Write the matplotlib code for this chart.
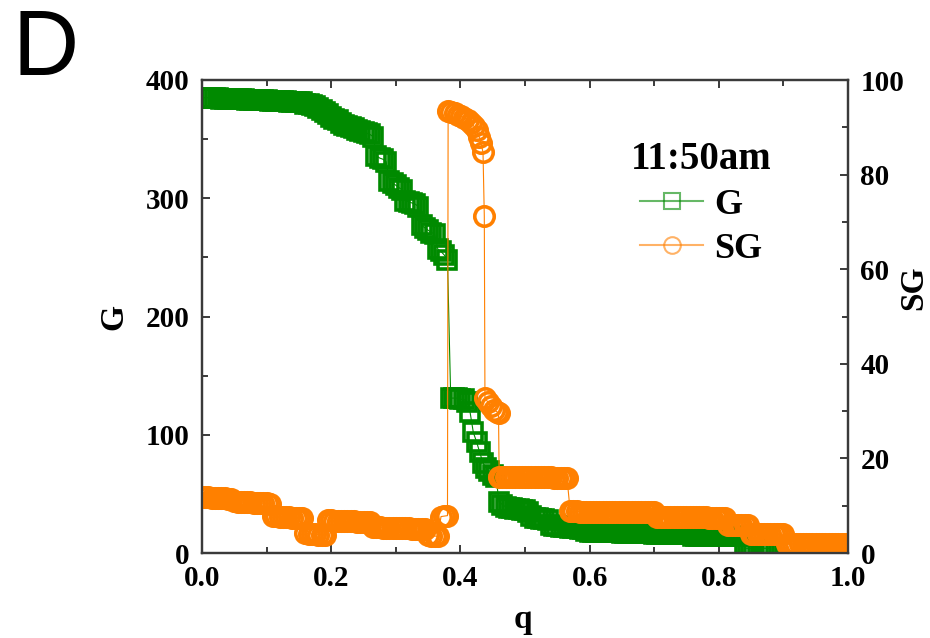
import numpy as np
import matplotlib
matplotlib.use("Agg")
import matplotlib.pyplot as plt
from matplotlib.lines import Line2D
from matplotlib.ticker import MultipleLocator

# ---------------- data ----------------
Q_STEP = 0.005  # sampling step of q for the regularly sampled parts

# G (left axis), sampled at q = 0, 0.005, 0.010, ...
G_values = [
    385, 385, 385, 385, 385, 385, 384, 384, 384, 384,
    384, 384, 384, 384, 383, 383, 383, 383, 383, 383,
    383, 382, 382, 382, 382, 382, 382, 381, 381, 381,
    381, 381, 380, 380, 379, 378, 376, 375, 373, 371,
    369, 367, 366, 364, 362, 361, 360, 359, 358, 357,
    356, 355, 354, 352, 336, 334, 333, 331, 315, 313,
    311, 309, 307, 298, 297, 296, 295, 293, 277, 275,
    273, 271, 270, 257, 255, 252, 248, 131, 131, 131,
    130, 130, 128, 119, 102, 94, 85, 76, 72, 69,
    66, 64, 43, 41, 39, 38, 38, 37, 37, 36,
    36, 35, 31, 30, 30, 29, 29, 28, 24, 23,
    23, 22, 22, 22, 21, 21, 21, 20, 20, 19,
    18, 18, 18, 18, 18, 18, 18, 18, 18, 18,
    17, 17, 17, 17, 17, 17, 17, 17, 17, 17,
    16, 16, 16, 16, 16, 16, 16, 16, 16, 16,
    16, 16, 14, 14, 14, 14, 14, 14, 14, 14,
    14, 14, 14, 14, 14, 14, 14, 14, 4, 4,
    4, 4, 4, 4, 4, 4, 4,
]

# SG (right axis), low part sampled at q = 0 ... 0.38
SG_low = [
    11.9, 11.8, 11.8, 11.7, 11.7, 11.7, 11.6, 11.6, 11.5, 11.4,
    10.9, 10.8, 10.8, 10.7, 10.7, 10.7, 10.6, 10.6, 10.6, 10.5,
    10.5, 10.4, 7.9, 7.8, 7.7, 7.7, 7.6, 7.6, 7.5, 7.5,
    7.4, 7.3, 4.2, 4.1, 4.0, 4.0, 3.9, 3.9, 3.8, 6.9,
    6.9, 6.8, 6.8, 6.8, 6.8, 6.7, 6.7, 6.7, 6.6, 6.6,
    6.6, 6.5, 6.5, 5.5, 5.4, 5.4, 5.3, 5.3, 5.3, 5.3,
    5.3, 5.2, 5.2, 5.2, 5.2, 5.1, 5.1, 5.1, 5.0, 5.0,
    3.7, 3.6, 3.6, 3.5, 7.7, 7.8, 7.9,
]

# SG jump region (irregular q)
SG_mid_q = [0.381, 0.386, 0.391, 0.396, 0.401, 0.406, 0.411, 0.416, 0.421,
            0.425, 0.429, 0.432, 0.435, 0.437, 0.438, 0.442, 0.447, 0.452,
            0.457, 0.459, 0.460]
SG_mid = [93.4, 93.2, 93.0, 92.7, 92.4, 92.0, 91.6, 91.0, 90.2,
          89.4, 88.0, 86.6, 84.7, 71.2, 32.8, 32.0, 31.0, 30.3,
          29.8, 29.6, 16.1]

# SG high-q part, sampled at q = 0.465 ... 1.0
SG_high_start = 0.465
SG_high = [
    16.1, 16.1, 16.1, 16.0, 16.0, 16.0, 16.0, 16.0, 16.0, 16.0,
    16.0, 16.0, 16.0, 16.0, 16.0, 16.0, 15.9, 15.9, 15.9, 15.9, 15.9,
    8.8, 8.8, 8.8, 8.7, 8.7, 8.7, 8.7, 8.7, 8.7, 8.7,
    8.7, 8.7, 8.7, 8.7, 8.7, 8.7, 8.7, 8.7, 8.7, 8.7,
    8.6, 8.6, 8.6, 8.6, 8.6, 8.6, 8.6,
    7.7, 7.7, 7.7, 7.6, 7.6, 7.6, 7.6, 7.6, 7.6, 7.6, 7.6,
    7.6, 7.6, 7.6, 7.6, 7.6, 7.5, 7.5, 7.5, 7.5, 7.5, 7.5,
    5.9, 5.9, 5.9, 5.9, 5.9, 5.9, 5.9,
    4.0, 4.0, 4.0, 4.0, 4.0, 4.0, 4.0, 4.0, 4.0, 4.0, 4.0,
    1.9, 1.9, 1.9, 1.9, 1.9, 1.9, 1.9, 1.9, 1.9, 1.9,
    1.9, 1.9, 1.9, 1.9, 1.9, 1.9, 1.9, 1.9, 1.9, 1.9,
]

x_ticks = [0.0, 0.2, 0.4, 0.6, 0.8, 1.0]
g_ticks = [0, 100, 200, 300, 400]
sg_ticks = [0, 20, 40, 60, 80, 100]
legend_title = "11:50am"
series_names = ["G", "SG"]

# ---------------- assemble x positions ----------------
q_G = np.arange(len(G_values)) * Q_STEP
q_SG = np.concatenate([
    np.arange(len(SG_low)) * Q_STEP,
    np.array(SG_mid_q),
    SG_high_start + np.arange(len(SG_high)) * Q_STEP,
])
SG_values = np.concatenate([SG_low, SG_mid, SG_high])

# ---------------- style ----------------
plt.rcParams["font.family"] = ["Liberation Serif", "DejaVu Serif"]
plt.rcParams["font.weight"] = "bold"
plt.rcParams["axes.labelweight"] = "bold"

GREEN = "#008a00"
ORANGE = "#ff8000"
SPINE = "#3a3a3a"

fig = plt.figure(figsize=(9.3, 6.38), dpi=100)
ax = fig.add_axes([202 / 930, 1 - 553 / 638, 646 / 930, 473 / 638])
ax2 = ax.twinx()

ax.plot(q_G, G_values, color=GREEN, lw=0.8, marker="s", ms=12.5,
        mfc="none", mec=GREEN, mew=2.6)
ax2.plot(q_SG, SG_values, color=ORANGE, lw=0.8, marker="o", ms=14,
         mfc="none", mec=ORANGE, mew=2.6)

ax.set_xlim(0, 1)
ax.set_ylim(0, 400)
ax2.set_ylim(0, 100)

ax.set_xticks(x_ticks)
ax.set_xticklabels([f"{t:.1f}" for t in x_ticks])
ax.xaxis.set_minor_locator(MultipleLocator(0.1))
ax.set_yticks(g_ticks)
ax.yaxis.set_minor_locator(MultipleLocator(50))
ax2.set_yticks(sg_ticks)
ax2.yaxis.set_minor_locator(MultipleLocator(10))

for a in (ax, ax2):
    for s in a.spines.values():
        s.set_linewidth(1.6)
        s.set_color(SPINE)

ax.tick_params(axis="both", which="both", direction="in", color=SPINE,
               width=1.4, labelsize=21, pad=9)
ax.tick_params(axis="x", which="both", top=True)
ax.tick_params(which="major", length=6)
ax.tick_params(which="minor", length=4)
ax2.tick_params(axis="y", which="both", direction="in", color=SPINE,
                width=1.4, labelsize=21, pad=9)
ax2.tick_params(which="major", length=6)
ax2.tick_params(which="minor", length=4)

ax.set_xlabel("q", fontsize=24)
ax.set_ylabel("G", fontsize=24)
ax2.set_ylabel("SG", fontsize=24, rotation=90)
ax.xaxis.set_label_coords(0.497, -0.108)
ax.yaxis.set_label_coords(-0.112, 0.5)
ax2.yaxis.set_label_coords(1.078, 0.56)

handles = [
    Line2D([], [], color=GREEN, lw=1.5, alpha=0.6, marker="s", ms=11,
           mfc="none", mec=GREEN, mew=1.5),
    Line2D([], [], color=ORANGE, lw=1.5, alpha=0.6, marker="o", ms=12,
           mfc="none", mec=ORANGE, mew=1.5),
]
leg = ax2.legend(handles, series_names, title=legend_title, frameon=False,
                 loc="upper left", bbox_to_anchor=(0.625, 0.925),
                 prop={"size": 26, "weight": "bold"},
                 title_fontproperties={"size": 28, "weight": "bold"},
                 handlelength=1.75, handletextpad=0.3, labelspacing=0.3,
                 borderpad=0.2)

fig.text(13 / 930, 1 - 75 / 638, "D", fontsize=66,
         family="Liberation Sans", weight="normal", va="baseline")

fig.savefig("out.png", dpi=100)
